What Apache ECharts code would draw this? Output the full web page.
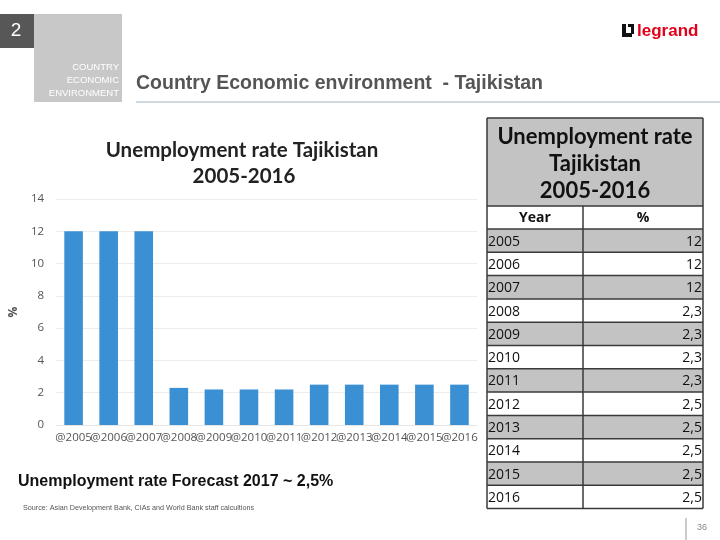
<!DOCTYPE html>
<html>
<head>
<meta charset="utf-8">
<script src="https://cdn.jsdelivr.net/npm/echarts@6/dist/echarts.min.js"></script>
<style>
html,body{margin:0;padding:0;background:#fff;}
#main{width:720px;height:540px;}
</style>
</head>
<body>
<div id="main"></div>
<script>
// ---- data ----
const years = ['2005','2006','2007','2008','2009','2010','2011','2012','2013','2014','2015','2016'];
const axisLabels = years.map(y => '@' + y);
const chartValues = [12, 12, 12, 2.3, 2.2, 2.2, 2.2, 2.5, 2.5, 2.5, 2.5, 2.5];
const tableValues = ['12','12','12','2,3','2,3','2,3','2,3','2,5','2,5','2,5','2,5','2,5'];
const yTicks = [0, 2, 4, 6, 8, 10, 12, 14];

const chart = echarts.init(document.getElementById('main'), null, {renderer: 'canvas'});

// ---- table graphics ----
const tX0 = 487, tX1 = 583, tX2 = 703;
const tTop = 118, tHeadBottom = 206, yearRowBottom = 229, rowH = 23.3;
const border = '#3a3a3a';
const tableEls = [];
tableEls.push({type:'rect', shape:{x:tX0, y:tTop, width:tX2-tX0, height:tHeadBottom-tTop}, style:{fill:'#c3c3c3'}});
years.forEach((y, i) => {
  const top = yearRowBottom + i * rowH;
  if (i % 2 === 0) {
    tableEls.push({type:'rect', shape:{x:tX0, y:top, width:tX2-tX0, height:rowH}, style:{fill:'#c3c3c3'}});
  }
  tableEls.push({type:'text', style:{text:y, x:tX0+1, y:top+rowH/2+1, font:'14px "Open Sans", sans-serif', fill:'#111', textVerticalAlign:'middle', textAlign:'left'}});
  tableEls.push({type:'text', style:{text:tableValues[i], x:tX2-1, y:top+rowH/2+1, font:'14px "Open Sans", sans-serif', fill:'#111', textVerticalAlign:'middle', textAlign:'right'}});
});
const tBottom = yearRowBottom + years.length * rowH;
const hLines = [tTop, tHeadBottom, yearRowBottom];
for (let i = 1; i <= years.length; i++) hLines.push(yearRowBottom + i * rowH);
hLines.forEach(yy => tableEls.push({type:'line', shape:{x1:tX0, y1:yy, x2:tX2, y2:yy}, style:{stroke:border, lineWidth:1.5}}));
tableEls.push({type:'line', shape:{x1:tX0, y1:tTop, x2:tX0, y2:tBottom}, style:{stroke:border, lineWidth:1.5}});
tableEls.push({type:'line', shape:{x1:tX2, y1:tTop, x2:tX2, y2:tBottom}, style:{stroke:border, lineWidth:1.5}});
tableEls.push({type:'line', shape:{x1:tX1, y1:tHeadBottom, x2:tX1, y2:tBottom}, style:{stroke:border, lineWidth:1.5}});
['Unemployment rate', 'Tajikistan', '2005-2016'].forEach((t, i) => {
  tableEls.push({type:'text', style:{text:t, x:(tX0+tX2)/2, y:137 + i*27, font:'bold 22px Lato, "Open Sans", sans-serif', fill:'#111', textAlign:'center', textVerticalAlign:'middle'}});
});
tableEls.push({type:'text', style:{text:'Year', x:(tX0+tX1)/2, y:(tHeadBottom+yearRowBottom)/2+1, font:'bold 14px "Open Sans", sans-serif', fill:'#111', textAlign:'center', textVerticalAlign:'middle'}});
tableEls.push({type:'text', style:{text:'%', x:(tX1+tX2)/2, y:(tHeadBottom+yearRowBottom)/2+1, font:'bold 14px "Open Sans", sans-serif', fill:'#111', textAlign:'center', textVerticalAlign:'middle'}});

// ---- page decorations ----
const pageEls = [
  {type:'rect', shape:{x:0, y:14, width:34, height:34}, style:{fill:'#575757'}},
  {type:'text', style:{text:'2', x:16, y:31, font:'19px "Liberation Sans", Arial, sans-serif', fill:'#fff', textAlign:'center', textVerticalAlign:'middle'}},
  {type:'rect', shape:{x:34, y:14, width:88, height:88}, style:{fill:'#c8c8c8'}},
  {type:'text', style:{text:'COUNTRY', x:119, y:67, font:'9.5px "Liberation Sans", Arial, sans-serif', fill:'#fff', textAlign:'right', textVerticalAlign:'middle'}},
  {type:'text', style:{text:'ECONOMIC', x:119, y:80, font:'9.5px "Liberation Sans", Arial, sans-serif', fill:'#fff', textAlign:'right', textVerticalAlign:'middle'}},
  {type:'text', style:{text:'ENVIRONMENT', x:119, y:93, font:'9.5px "Liberation Sans", Arial, sans-serif', fill:'#fff', textAlign:'right', textVerticalAlign:'middle'}},
  {type:'text', style:{text:'Country Economic environment  - Tajikistan', x:136, y:84, font:'bold 19.5px "Liberation Sans", Arial, sans-serif', fill:'#555', textAlign:'left', textVerticalAlign:'middle'}},
  {type:'line', shape:{x1:136, y1:102, x2:720, y2:102}, style:{stroke:'#cfd9e0', lineWidth:2}},
  // logo
  {type:'rect', shape:{x:622, y:24, width:4, height:13}, style:{fill:'#111'}},
  {type:'rect', shape:{x:622, y:33, width:10, height:4}, style:{fill:'#111'}},
  {type:'rect', shape:{x:628, y:24, width:6, height:3}, style:{fill:'#111'}},
  {type:'rect', shape:{x:631, y:24, width:3, height:10}, style:{fill:'#111'}},
  {type:'text', style:{text:'legrand', x:637, y:31, font:'bold 17px "Liberation Sans", Arial, sans-serif', fill:'#e2001a', textAlign:'left', textVerticalAlign:'middle'}},
  // bottom texts
  {type:'text', style:{text:'Unemployment rate Forecast 2017 ~ 2,5%', x:18, y:482, font:'bold 16px "Liberation Sans", Arial, sans-serif', fill:'#111', textAlign:'left', textVerticalAlign:'middle'}},
  {type:'text', style:{text:'Source: Asian Development Bank, CIAs and World Bank staff calcultions', x:23, y:508, font:'7.2px "Liberation Sans Narrow", "Liberation Sans", Arial, sans-serif', fill:'#555', textAlign:'left', textVerticalAlign:'middle'}},
  {type:'line', shape:{x1:686, y1:518, x2:686, y2:540}, style:{stroke:'#999', lineWidth:1}},
  {type:'text', style:{text:'36', x:697, y:528, font:'9px "Liberation Sans", Arial, sans-serif', fill:'#888', textAlign:'left', textVerticalAlign:'middle'}},
  // chart title
  {type:'text', style:{text:'Unemployment rate Tajikistan', x:242, y:150, font:'bold 20.5px Lato, "Open Sans", sans-serif', fill:'#222', textAlign:'center', textVerticalAlign:'middle'}},
  {type:'text', style:{text:'2005-2016', x:244, y:176, font:'bold 20.5px Lato, "Open Sans", sans-serif', fill:'#222', textAlign:'center', textVerticalAlign:'middle'}}
];

const option = {
  backgroundColor: '#fff',
  animation: false,
  grid: {left: 48, right: 243, top: 199, bottom: 115, containLabel: false},
  xAxis: {
    type: 'category',
    data: axisLabels,
    axisLine: {show: true, lineStyle: {color: '#e6e6e6'}},
    axisTick: {show: false},
    axisLabel: {interval: 0, color: '#555', fontSize: 11.5, fontFamily: '"Open Sans", sans-serif', margin: 7}
  },
  yAxis: {
    type: 'value',
    min: 0, max: 14, interval: 2,
    name: '%',
    nameLocation: 'middle',
    nameRotate: 90,
    nameGap: 27,
    nameTextStyle: {color: '#555', fontSize: 12, fontWeight: 'bold', fontFamily: '"Open Sans", sans-serif'},
    axisLine: {show: false},
    axisTick: {show: false},
    splitLine: {lineStyle: {color: '#ececec'}},
    axisLabel: {color: '#555', fontSize: 11.5, fontFamily: '"Open Sans", sans-serif', margin: 12,
      formatter: v => (yTicks.indexOf(v) >= 0 ? String(v) : '')}
  },
  series: [{
    type: 'bar',
    data: chartValues,
    barWidth: '53%',
    itemStyle: {color: '#3b8fd3'}
  }],
  graphic: {elements: pageEls.concat(tableEls)}
};
chart.setOption(option);
</script>
</body>
</html>
